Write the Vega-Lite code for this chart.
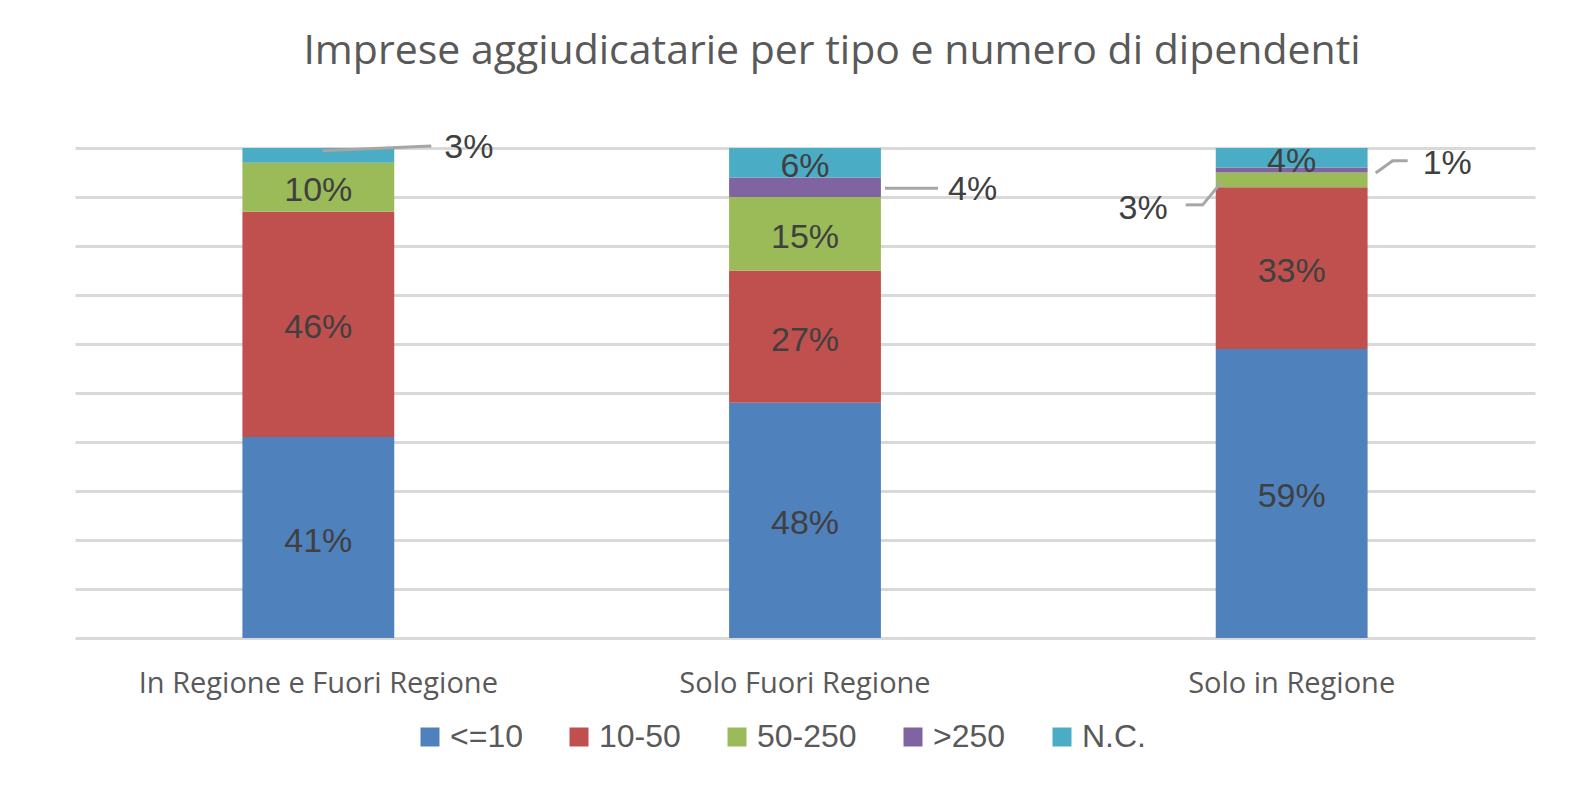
{
  "$schema": "https://vega.github.io/schema/vega-lite/v6.json",
  "width": 1460,
  "height": 490,
  "padding": {"left": 75, "top": 30, "right": 20, "bottom": 10},
  "background": "white",
  "title": {
    "text": "Imprese aggiudicatarie per tipo e numero di dipendenti",
    "font": "Open Sans",
    "fontSize": 41,
    "fontWeight": "normal",
    "color": "#595959",
    "offset": 58,
    "dx": 27,
    "anchor": "middle"
  },
  "data": {
    "values": [
      {"cat": "In Regione e Fuori Regione", "size": "<=10", "pct": 41},
      {"cat": "In Regione e Fuori Regione", "size": "10-50", "pct": 46},
      {"cat": "In Regione e Fuori Regione", "size": "50-250", "pct": 10},
      {"cat": "In Regione e Fuori Regione", "size": ">250", "pct": 0},
      {"cat": "In Regione e Fuori Regione", "size": "N.C.", "pct": 3},
      {"cat": "Solo Fuori Regione", "size": "<=10", "pct": 48},
      {"cat": "Solo Fuori Regione", "size": "10-50", "pct": 27},
      {"cat": "Solo Fuori Regione", "size": "50-250", "pct": 15},
      {"cat": "Solo Fuori Regione", "size": ">250", "pct": 4},
      {"cat": "Solo Fuori Regione", "size": "N.C.", "pct": 6},
      {"cat": "Solo in Regione", "size": "<=10", "pct": 59},
      {"cat": "Solo in Regione", "size": "10-50", "pct": 33},
      {"cat": "Solo in Regione", "size": "50-250", "pct": 3},
      {"cat": "Solo in Regione", "size": ">250", "pct": 1},
      {"cat": "Solo in Regione", "size": "N.C.", "pct": 4}
    ]
  },
  "transform": [
    {"calculate": "indexof(['<=10','10-50','50-250','>250','N.C.'], datum.size)", "as": "ord"},
    {"stack": "pct", "groupby": ["cat"], "sort": [{"field": "ord", "order": "ascending"}], "as": ["v0", "v1"]},
    {"calculate": "(datum.v0 + datum.v1) / 2", "as": "mid"},
    {"calculate": "datum.pct + '%'", "as": "lbl"}
  ],
  "encoding": {
    "x": {
      "field": "cat",
      "type": "nominal",
      "sort": ["In Regione e Fuori Regione", "Solo Fuori Regione", "Solo in Regione"],
      "scale": {"paddingInner": 0.688, "paddingOuter": 0.344},
      "axis": {
        "title": null,
        "labelAngle": 0,
        "labelFont": "Open Sans",
        "labelFontSize": 29,
        "labelColor": "#595959",
        "labelLimit": 0,
        "ticks": false,
        "domain": false,
        "labelPadding": 31
      }
    }
  },
  "layer": [
    {
      "mark": {"type": "bar"},
      "encoding": {
        "y": {
          "field": "v0",
          "type": "quantitative",
          "scale": {"domain": [0, 100], "nice": false},
          "axis": {
            "title": null,
            "labels": false,
            "ticks": false,
            "domain": false,
            "grid": true,
            "gridColor": "#d9d9d9",
            "gridWidth": 3,
            "values": [0, 10, 20, 30, 40, 50, 60, 70, 80, 90, 100]
          }
        },
        "y2": {"field": "v1"},
        "color": {
          "field": "size",
          "type": "nominal",
          "scale": {
            "domain": ["<=10", "10-50", "50-250", ">250", "N.C."],
            "range": ["#4F81BD", "#C0504D", "#9BBB59", "#8064A2", "#4BACC6"]
          },
          "legend": {
            "title": null,
            "orient": "none",
            "legendX": 339,
            "legendY": 573,
            "direction": "horizontal",
            "symbolType": "square",
            "symbolSize": 361,
            "symbolStrokeWidth": 0,
            "labelFont": "Liberation Sans",
            "labelFontSize": 32,
            "labelColor": "#595959",
            "labelOffset": 4,
            "columnPadding": 40
          }
        }
      }
    },
    {
      "transform": [
        {"filter": "datum.pct > 0 && !((datum.cat == 'In Regione e Fuori Regione' && datum.size == 'N.C.') || (datum.cat == 'Solo Fuori Regione' && datum.size == '>250') || (datum.cat == 'Solo in Regione' && (datum.size == '>250' || datum.size == '50-250')))"}
      ],
      "mark": {"type": "text", "font": "Liberation Sans", "fontSize": 34, "color": "#404040", "baseline": "middle", "dy": 4},
      "encoding": {
        "y": {"field": "mid", "type": "quantitative"},
        "text": {"field": "lbl"}
      }
    },
    {
      "transform": [{"filter": "datum.cat == 'In Regione e Fuori Regione' && datum.size == 'N.C.'"}],
      "mark": {"type": "rule", "color": "#A6A6A6", "strokeWidth": 3, "xOffset": 4, "x2Offset": 113, "yOffset": -4.6, "y2Offset": -9.3},
      "encoding": {
        "y": {"field": "mid", "type": "quantitative"},
        "x2": {"field": "cat"},
        "y2": {"field": "mid"}
      }
    },
    {
      "transform": [{"filter": "datum.cat == 'In Regione e Fuori Regione' && datum.size == 'N.C.'"}],
      "mark": {"type": "text", "font": "Liberation Sans", "fontSize": 34, "color": "#404040", "baseline": "middle", "align": "left", "dx": 126, "dy": -7.5},
      "encoding": {
        "y": {"field": "mid", "type": "quantitative"},
        "text": {"field": "lbl"}
      }
    },
    {
      "transform": [{"filter": "datum.cat == 'Solo Fuori Regione' && datum.size == '>250'"}],
      "mark": {"type": "rule", "color": "#A6A6A6", "strokeWidth": 3, "xOffset": 80, "x2Offset": 133, "yOffset": 1, "y2Offset": 1},
      "encoding": {
        "y": {"field": "mid", "type": "quantitative"},
        "x2": {"field": "cat"},
        "y2": {"field": "mid"}
      }
    },
    {
      "transform": [{"filter": "datum.cat == 'Solo Fuori Regione' && datum.size == '>250'"}],
      "mark": {"type": "text", "font": "Liberation Sans", "fontSize": 34, "color": "#404040", "baseline": "middle", "align": "left", "dx": 143, "dy": 3},
      "encoding": {
        "y": {"field": "mid", "type": "quantitative"},
        "text": {"field": "lbl"}
      }
    },
    {
      "transform": [{"filter": "datum.cat == 'Solo in Regione' && datum.size == '>250'"}],
      "mark": {"type": "rule", "color": "#A6A6A6", "strokeWidth": 3, "xOffset": 84, "x2Offset": 101, "yOffset": 3, "y2Offset": -9.3},
      "encoding": {
        "y": {"field": "mid", "type": "quantitative"},
        "x2": {"field": "cat"},
        "y2": {"field": "mid"}
      }
    },
    {
      "transform": [{"filter": "datum.cat == 'Solo in Regione' && datum.size == '>250'"}],
      "mark": {"type": "rule", "color": "#A6A6A6", "strokeWidth": 3, "xOffset": 100, "x2Offset": 116, "yOffset": -9.3, "y2Offset": -9.3},
      "encoding": {
        "y": {"field": "mid", "type": "quantitative"},
        "x2": {"field": "cat"},
        "y2": {"field": "mid"}
      }
    },
    {
      "transform": [{"filter": "datum.cat == 'Solo in Regione' && datum.size == '>250'"}],
      "mark": {"type": "text", "font": "Liberation Sans", "fontSize": 34, "color": "#404040", "baseline": "middle", "align": "left", "dx": 131, "dy": -6},
      "encoding": {
        "y": {"field": "mid", "type": "quantitative"},
        "text": {"field": "lbl"}
      }
    },
    {
      "transform": [{"filter": "datum.cat == 'Solo in Regione' && datum.size == '50-250'"}],
      "mark": {"type": "rule", "color": "#A6A6A6", "strokeWidth": 3, "xOffset": -70, "x2Offset": -89, "yOffset": 2, "y2Offset": 25},
      "encoding": {
        "y": {"field": "mid", "type": "quantitative"},
        "x2": {"field": "cat"},
        "y2": {"field": "mid"}
      }
    },
    {
      "transform": [{"filter": "datum.cat == 'Solo in Regione' && datum.size == '50-250'"}],
      "mark": {"type": "rule", "color": "#A6A6A6", "strokeWidth": 3, "xOffset": -88, "x2Offset": -106, "yOffset": 25, "y2Offset": 25},
      "encoding": {
        "y": {"field": "mid", "type": "quantitative"},
        "x2": {"field": "cat"},
        "y2": {"field": "mid"}
      }
    },
    {
      "transform": [{"filter": "datum.cat == 'Solo in Regione' && datum.size == '50-250'"}],
      "mark": {"type": "text", "font": "Liberation Sans", "fontSize": 34, "color": "#404040", "baseline": "middle", "align": "right", "dx": -124, "dy": 29},
      "encoding": {
        "y": {"field": "mid", "type": "quantitative"},
        "text": {"field": "lbl"}
      }
    }
  ],
  "config": {
    "view": {"stroke": null},
    "axis": {"gridCap": "butt"}
  }
}
